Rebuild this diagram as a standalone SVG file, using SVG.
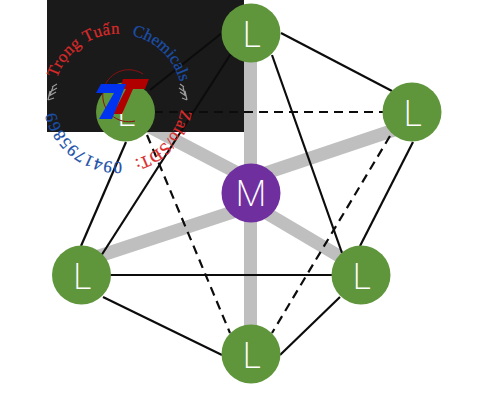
<svg xmlns="http://www.w3.org/2000/svg" width="493" height="400" viewBox="0 0 493 400">
<style>
.s{stroke:#bfbfbf;stroke-width:13;fill:none}
.k{stroke:#0c0c0c;stroke-width:2.200;fill:none}
.d{stroke-dasharray:9 6}
.g{fill:#5f953b}
.p{fill:#702f9f}
.t{font-family:Inter,"Open Sans","Liberation Sans",sans-serif;font-weight:200;font-size:35px;fill:#fff;text-anchor:middle}
.r{font-family:"Liberation Serif",serif;font-size:16.8px;stroke-width:0.25px}
.red{fill:#d92a2a;stroke:#d92a2a}
.blue{fill:#1a4fa8;stroke:#1a4fa8}
.leaf{stroke:#9a9a9a;stroke-width:1.2;fill:none}
</style>
<defs>
<path id="a" d="M57.100 78.200A64 64 0 1 1 55.400 111.300"/>
</defs>
<rect width="493" height="400" fill="#fff"/>
<g id="connectors">
<line class="s" x1="250.500" y1="193" x2="250.500" y2="33"/>
<line class="s" x1="251" y1="178" x2="412" y2="124"/>
<line class="s" x1="251" y1="180" x2="125" y2="114"/>
<line class="s" x1="251" y1="206" x2="81" y2="262"/>
<line class="s" x1="251" y1="204" x2="361" y2="269"/>
<line class="s" x1="250.500" y1="193" x2="250.500" y2="354"/>
<rect x="47" y="0" width="197" height="132" fill="#1a1a1a"/>
<line class="k" x1="150" y1="90" x2="222" y2="33"/>
<line class="k" x1="126" y1="142" x2="81" y2="246"/>
<line class="k" x1="232" y1="52" x2="101" y2="256"/>
<line class="k" x1="281" y1="33" x2="392" y2="91"/>
<line class="k" x1="272" y1="55" x2="342" y2="253"/>
<line class="k" x1="413" y1="142" x2="360" y2="246"/>
<line class="k" x1="105" y1="275" x2="336" y2="275"/>
<line class="k" x1="103" y1="297" x2="222" y2="355"/>
<line class="k" x1="340" y1="297" x2="280" y2="355"/>
<line class="k d" x1="154" y1="112" x2="383" y2="112"/>
<line class="k d" x1="147" y1="135" x2="230" y2="333"/>
<line class="k d" x1="390" y1="136" x2="272" y2="333"/>
</g>
<g id="node-top"><circle class="g" cx="251" cy="33" r="29.5"/><text class="t" x="252" y="47">L</text></g>
<g id="node-right"><circle class="g" cx="412" cy="112" r="29.5"/><text class="t" x="413" y="126">L</text></g>
<g id="node-upper-left"><circle class="g" cx="125.500" cy="112" r="29.5"/><text class="t" x="126.500" y="126">L</text></g>
<g id="node-center"><circle class="p" cx="251" cy="193" r="29.5"/><text class="t" x="251" y="206">M</text></g>
<g id="node-left"><circle class="g" cx="81.500" cy="275" r="29.5"/><text class="t" x="82.500" y="289">L</text></g>
<g id="node-lower-right"><circle class="g" cx="361" cy="275" r="29.5"/><text class="t" x="362" y="289">L</text></g>
<g id="node-bottom"><circle class="g" cx="251" cy="354" r="29.5"/><text class="t" x="252" y="368">L</text></g>
<g id="logo">
<path d="M143 74A26 26 0 1 0 135 121" fill="none" stroke="#8b1010" stroke-width="1"/>
<polygon points="123,79 149,79 145,89 133,89 122,114 113,114 126,89 120,89" fill="#b00000"/>
<polygon points="101,84 126,84 112,119 99,119 114,93 96,93" fill="#0033f0"/>
<text class="r red" letter-spacing="0.4"><textPath href="#a">Trọng Tuấn</textPath></text>
<text class="r blue"><textPath href="#a" startOffset="93.900">Chemicals</textPath></text>
<text class="r red" letter-spacing="0.2"><textPath href="#a" startOffset="192">Zalo/SĐT:</textPath></text>
<text class="r blue" letter-spacing="0.7"><textPath href="#a" startOffset="277">0941795869</textPath></text>
<path class="leaf" d="M48 100l6 -2M49 96l7 -4M50 92l7 -4M52 87l5 -3M48 100l2 -9M50 95l3 -8M187 100l-5 -2M186 96l-6 -4M185 92l-6 -4M184 87l-4 -3M187 100l-2 -9M185 95l-2 -8"/>
</g>
</svg>
